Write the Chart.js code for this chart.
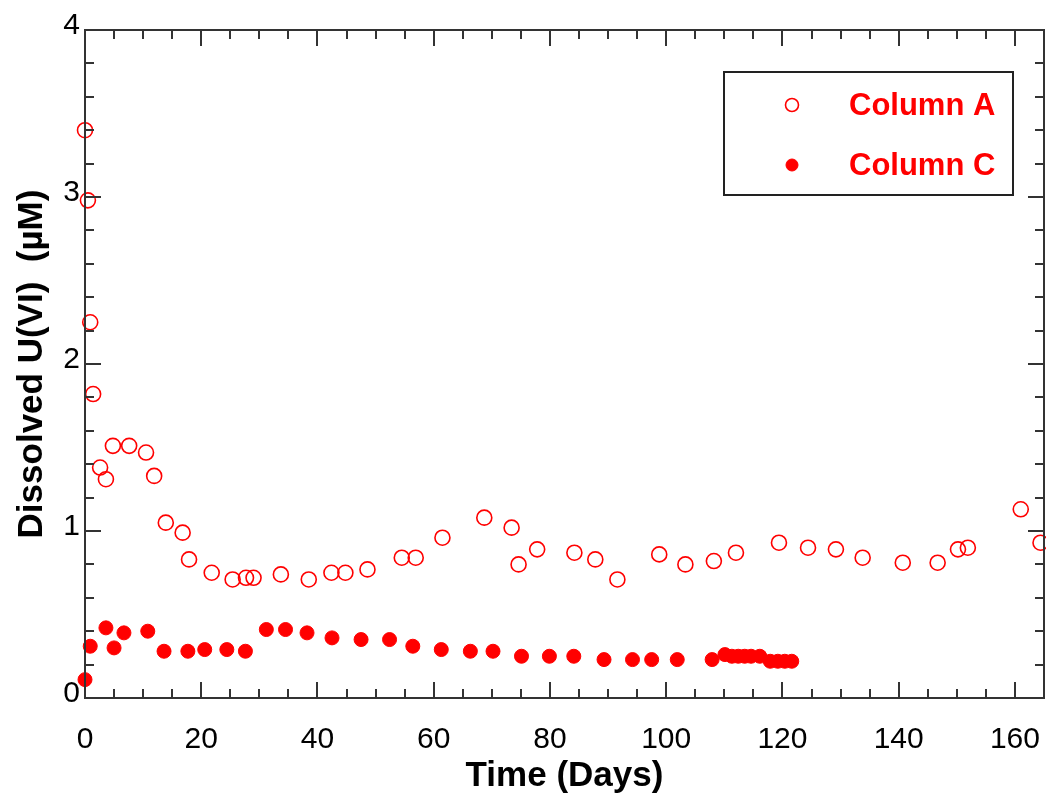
<!DOCTYPE html>
<html>
<head>
<meta charset="utf-8">
<script src="https://cdn.jsdelivr.net/npm/chart.js@4/dist/chart.umd.min.js"></script>
<style>
  body { margin: 0; background: #fff; }
  #wrap { width: 1046px; height: 797px; }
</style>
</head>
<body>
<div id="wrap"><canvas id="uChart" width="1046" height="797"></canvas></div>
<script>
// Dissolved U(VI) vs time
const colADays = [0, 0.5, 0.9, 1.4, 2.6, 3.6, 4.8, 7.6, 10.5, 11.9, 13.9, 16.8, 17.9, 21.8, 25.4, 27.7, 29.0,
    33.7, 38.5, 42.4, 44.8, 48.6, 54.5, 56.9, 61.5, 68.7, 73.4, 74.6, 77.8, 84.2, 87.8, 91.6, 98.8,
    103.3, 108.2, 112.0, 119.4, 124.4, 129.2, 133.8, 140.7, 146.7, 150.2, 151.9, 161.0, 164.4];
const colAConc = [3.40, 2.98, 2.25, 1.82, 1.38, 1.31, 1.51, 1.51, 1.47, 1.33, 1.05, 0.99, 0.83, 0.75, 0.71, 0.72, 0.72,
    0.74, 0.71, 0.75, 0.75, 0.77, 0.84, 0.84, 0.96, 1.08, 1.02, 0.80, 0.89, 0.87, 0.83, 0.71, 0.86,
    0.80, 0.82, 0.87, 0.93, 0.90, 0.89, 0.84, 0.81, 0.81, 0.89, 0.90, 1.13, 0.93];

const colCDays = [0, 0.9, 3.6, 5.0, 6.7, 10.8, 13.6, 17.7, 20.6, 24.4, 27.6, 31.2, 34.5, 38.2, 42.5, 47.5, 52.4,
    56.4, 61.3, 66.3, 70.2, 75.1, 79.9, 84.1, 89.3, 94.2, 97.5, 101.9, 107.9, 110.1, 111.3, 112.4,
    113.5, 114.6, 116.1, 117.9, 119.2, 120.4, 121.6];
const colCConc = [0.11, 0.31, 0.42, 0.30, 0.39, 0.40, 0.28, 0.28, 0.29, 0.29, 0.28, 0.41, 0.41, 0.39, 0.36, 0.35, 0.35,
    0.31, 0.29, 0.28, 0.28, 0.25, 0.25, 0.25, 0.23, 0.23, 0.23, 0.23, 0.23, 0.26, 0.25, 0.25,
    0.25, 0.25, 0.25, 0.22, 0.22, 0.22, 0.22];

const xTicks = [0, 20, 40, 60, 80, 100, 120, 140, 160];
const yTicks = [0, 1, 2, 3, 4];

const toPoints = (xs, ys) => xs.map((d, i) => ({ x: d, y: ys[i] }));

// inward tick marks on all four sides + box frame
const frameTicks = {
    id: 'frameTicks',
    afterDatasetsDraw(chart) {
        const { ctx, chartArea: a, scales: { x, y } } = chart;
        ctx.save();
        ctx.strokeStyle = '#333';
        ctx.lineWidth = 2;
        ctx.beginPath();
        for (let i = 0; i * 5 <= x.max; i++) {
            const px = Math.round(x.getPixelForValue(i * 5));
            const len = i % 4 === 0 ? 16 : 9;
            ctx.moveTo(px, a.bottom); ctx.lineTo(px, a.bottom - len);
            ctx.moveTo(px, a.top); ctx.lineTo(px, a.top + len);
        }
        for (let i = 0; i <= 20; i++) {
            const py = Math.round(y.getPixelForValue(i * 0.2));
            const len = i % 5 === 0 ? 16 : 9;
            ctx.moveTo(a.left, py); ctx.lineTo(a.left + len, py);
            ctx.moveTo(a.right, py); ctx.lineTo(a.right - len, py);
        }
        ctx.stroke();
        ctx.strokeRect(a.left, a.top, a.right - a.left, a.bottom - a.top);
        ctx.restore();
    }
};

// boxed legend in the upper right
const boxLegend = {
    id: 'boxLegend',
    afterDraw(chart) {
        const ctx = chart.ctx;
        const bx = 724, by = 72, bw = 289, bh = 123;
        ctx.save();
        ctx.fillStyle = '#fff';
        ctx.fillRect(bx, by, bw, bh);
        ctx.strokeStyle = '#222';
        ctx.lineWidth = 2;
        ctx.strokeRect(bx, by, bw, bh);
        chart.data.datasets.forEach((ds, i) => {
            const cy = by + 33 + i * 60;
            ctx.beginPath();
            ctx.arc(792, cy, ds.pointRadius - 1, 0, Math.PI * 2);
            ctx.lineWidth = ds.pointBorderWidth;
            ctx.strokeStyle = ds.borderColor;
            ctx.fillStyle = ds.backgroundColor;
            ctx.fill();
            ctx.stroke();
            ctx.fillStyle = '#ff0000';
            ctx.font = 'bold 31px "Liberation Sans", Arial, sans-serif';
            ctx.textBaseline = 'middle';
            ctx.textAlign = 'left';
            ctx.fillText(ds.label, 849, cy + 1);
        });
        ctx.restore();
    }
};

new Chart(document.getElementById('uChart'), {
    type: 'scatter',
    data: {
        datasets: [{
            label: 'Column A',
            data: toPoints(colADays, colAConc),
            borderColor: '#ff0000',
            backgroundColor: 'rgba(255,255,255,0)',
            pointRadius: 7.5,
            pointBorderWidth: 1.6,
            clip: false
        }, {
            label: 'Column C',
            data: toPoints(colCDays, colCConc),
            borderColor: '#ff0000',
            backgroundColor: '#ff0000',
            pointRadius: 7,
            pointBorderWidth: 1,
            clip: false
        }]
    },
    options: {
        responsive: false,
        animation: false,
        layout: { autoPadding: false, padding: { top: 30, right: 2, left: 0, bottom: 0 } },
        plugins: { legend: { display: false }, tooltip: { enabled: false } },
        scales: {
            x: {
                type: 'linear',
                min: 0,
                max: 165,
                afterBuildTicks: s => { s.ticks = xTicks.map(v => ({ value: v })); },
                afterFit: s => { s.height = 99; s.paddingLeft = 0; s.paddingRight = 0; },
                grid: { display: false, drawTicks: false },
                border: { display: false },
                ticks: {
                    padding: 24,
                    color: '#000',
                    font: { family: '"Liberation Sans", Arial, sans-serif', size: 30 }
                },
                title: {
                    display: true,
                    text: 'Time (Days)',
                    color: '#000',
                    font: { family: '"Liberation Sans", Arial, sans-serif', size: 35, weight: 'bold' },
                    padding: { top: 0, bottom: 0 }
                }
            },
            y: {
                min: 0,
                max: 4,
                afterBuildTicks: s => { s.ticks = yTicks.map(v => ({ value: v })); },
                afterFit: s => { s.width = 85; s.paddingTop = 0; s.paddingBottom = 0; },
                grid: { display: false, drawTicks: false },
                border: { display: false },
                ticks: {
                    padding: 5,
                    labelOffset: -4,
                    color: '#000',
                    font: { family: '"Liberation Sans", Arial, sans-serif', size: 30 }
                },
                title: {
                    display: true,
                    text: 'Dissolved U(VI)  (µM)',
                    color: '#000',
                    font: { family: '"Liberation Sans", Arial, sans-serif', size: 35, weight: 'bold' },
                    padding: { top: 11, bottom: 0 }
                }
            }
        }
    },
    plugins: [frameTicks, boxLegend]
});
</script>
</body>
</html>
